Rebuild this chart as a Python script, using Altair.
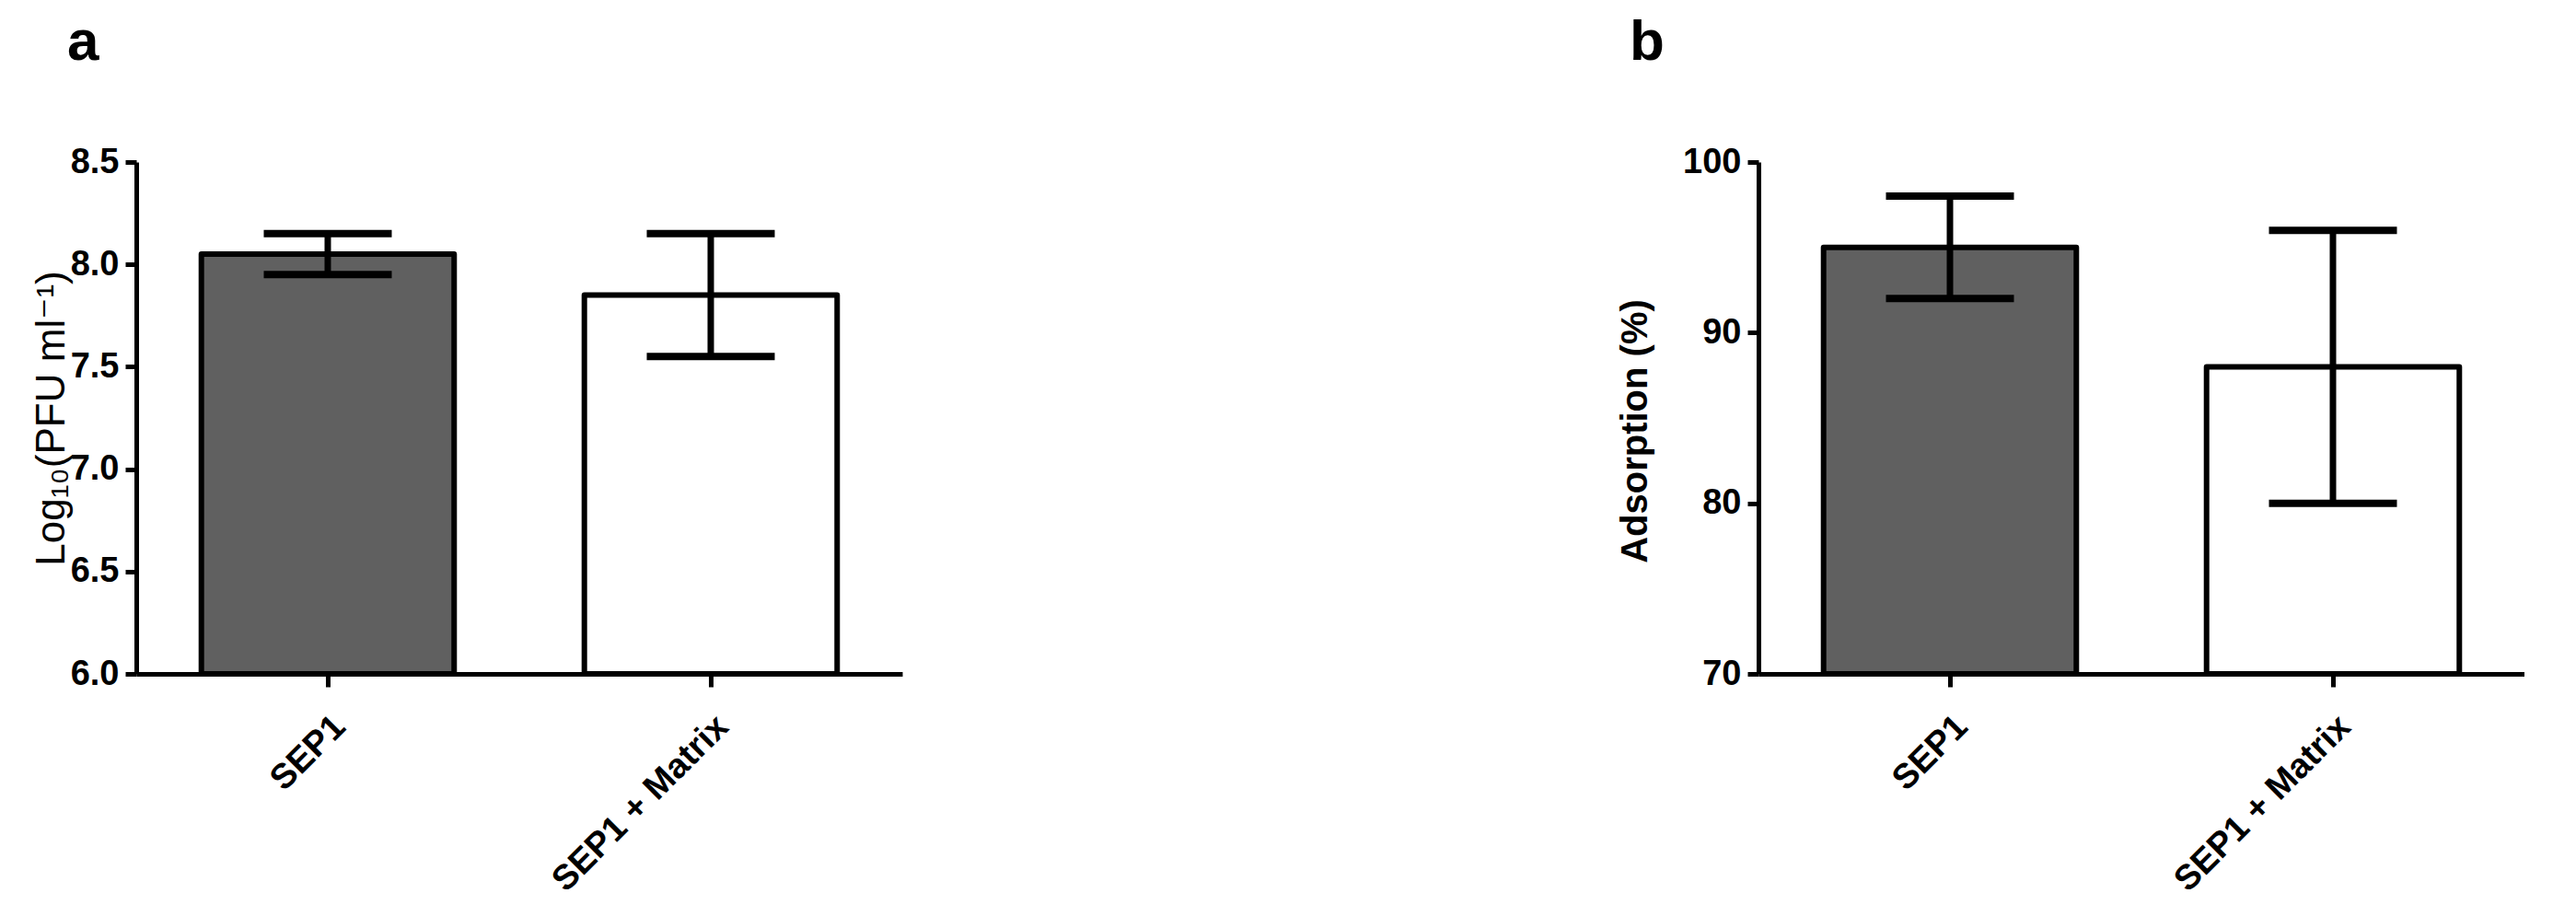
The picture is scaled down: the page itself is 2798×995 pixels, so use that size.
import altair as alt
import pandas as pd

categories = ["SEP1", "SEP1 + Matrix"]
fills = ["#606060", "#ffffff"]

a_mean = [8.05, 7.85]
a_low = [7.95, 7.55]
a_high = [8.15, 8.15]
a_ticks = [6.0, 6.5, 7.0, 7.5, 8.0, 8.5]

b_mean = [95, 88]
b_low = [92, 80]
b_high = [98, 96]
b_ticks = [70, 80, 90, 100]

FONT = '"Liberation Sans", Arial, "DejaVu Sans"'
W, H = 832, 556


def panel(mean, low, high, ticks, fmt, ytitle, title_font_weight, title_size, title_x, title_y,
          letter, letter_dx):
    df = pd.DataFrame({"cat": categories, "mean": mean, "low": low, "high": high,
                       "base": [ticks[0]] * len(categories)})
    base = alt.Chart(df)
    x = alt.X("cat:N", sort=categories,
              scale=alt.Scale(paddingInner=0.34, paddingOuter=0.17),
              axis=alt.Axis(title=None, labelAngle=-45, tickSize=14, labelPadding=24,
                            labelLimit=0, labelFontSize=38))
    yscale = alt.Scale(domain=[ticks[0], ticks[-1]], zero=False, nice=False)
    yaxis = alt.Axis(values=ticks, format=fmt, title=ytitle, tickSize=12,
                     labelFontSize=38, labelPadding=7,
                     titleFontWeight=title_font_weight, titleFontSize=title_size,
                     titleFont=FONT, titleX=title_x, titleY=title_y,
                     titleBaseline="alphabetic", titleAlign="center",
                     titleAngle=-90, titleColor="black")
    bars = base.mark_bar(stroke="black", strokeWidth=6, strokeJoin="round").encode(
        x=x,
        y=alt.Y("mean:Q", scale=yscale, axis=yaxis),
        y2="base:Q",
        fill=alt.Fill("cat:N", scale=alt.Scale(domain=categories, range=fills), legend=None),
    )
    rule = base.mark_rule(strokeWidth=7, color="black").encode(
        x=alt.X("cat:N", sort=categories), y="low:Q", y2="high:Q")
    cap_hi = base.mark_tick(size=139, thickness=8, color="black", opacity=1).encode(
        x=alt.X("cat:N", sort=categories), y="high:Q")
    cap_lo = base.mark_tick(size=139, thickness=8, color="black", opacity=1).encode(
        x=alt.X("cat:N", sort=categories), y="low:Q")
    return alt.layer(bars, rule, cap_hi, cap_lo).properties(
        width=W, height=H,
        title=alt.TitleParams(letter, anchor="start", frame="group", dx=letter_dx, offset=30,
                              fontSize=62, fontWeight="bold", font=FONT,
                              baseline="alphabetic", color="black"),
    )


pa = panel(a_mean, a_low, a_high, a_ticks, ".1f", "Log₁₀(PFU ml⁻¹)", "normal", 44, -79, 278,
           "a", -75)
pb = panel(b_mean, b_low, b_high, b_ticks, "d", "Adsorption (%)", "bold", 40, -122, 292,
           "b", -140)

chart = alt.hconcat(pa, pb, spacing=776).properties(
    padding={"left": 25, "top": 7, "right": 0, "bottom": 0},
    background="white",
).configure_view(stroke=None).configure_axis(
    domainColor="black", domainWidth=5, tickColor="black", tickWidth=5,
    labelFont=FONT, labelFontWeight="bold", labelColor="black", grid=False,
)

chart.save("out.html", embed_options={"renderer": "svg", "actions": False})
